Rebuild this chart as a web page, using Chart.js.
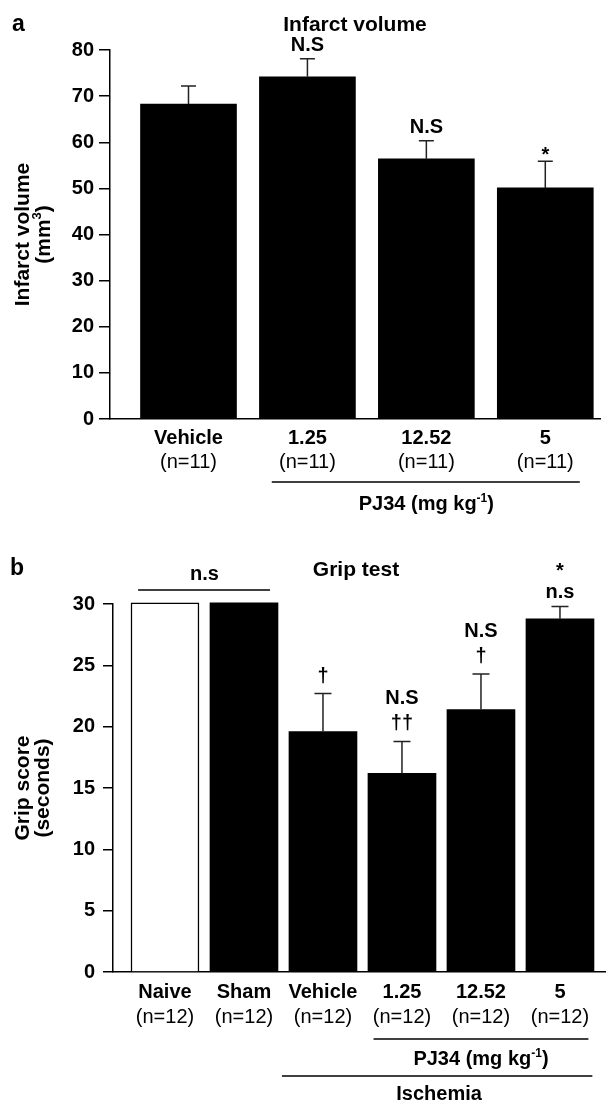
<!DOCTYPE html>
<html>
<head>
<meta charset="utf-8">
<script src="https://cdn.jsdelivr.net/npm/chart.js@4.4.1/dist/chart.umd.min.js"></script>
<style>
  html, body { margin: 0; padding: 0; background: #fff; }
  #wrap { position: relative; width: 611px; height: 1102px; }
  canvas { position: absolute; left: 0; }
</style>
</head>
<body>
<div id="wrap">
  <canvas id="infarct" width="611" height="540" style="top:0"></canvas>
  <canvas id="grip" width="611" height="562" style="top:540px"></canvas>
</div>
<script>
// panel a - infarct volume
const infarctGroups = ['Vehicle', '1.25', '12.52', '5'];
const infarctN = ['(n=11)', '(n=11)', '(n=11)', '(n=11)'];
const infarctMean = [68.3, 74.2, 56.4, 50.1];
const infarctSem = [3.9, 3.9, 3.9, 5.8];
const infarctMarks = [[], ['N.S'], ['N.S'], ['*']];
const infarctTicks = [0, 10, 20, 30, 40, 50, 60, 70, 80];

// panel b - grip test
const gripGroups = ['Naive', 'Sham', 'Vehicle', '1.25', '12.52', '5'];
const gripN = ['(n=12)', '(n=12)', '(n=12)', '(n=12)', '(n=12)', '(n=12)'];
const gripMean = [30.1, 30.1, 19.6, 16.2, 21.4, 28.8];
const gripSem = [0, 0, 3.1, 2.6, 2.9, 1.0];
const gripMarks = [[], [], ['†'], ['††', 'N.S'], ['†', 'N.S'], ['n.s', '*']];
const gripTicks = [0, 5, 10, 15, 20, 25, 30];

const FAMILY = '"Liberation Sans", Arial, Helvetica, sans-serif';
const bold = px => `bold ${px}px ${FAMILY}`;
const plain = px => `${px}px ${FAMILY}`;

// rough glyph geometry so the stacked marks sit like the figure
function glyphBox(t) {
    if (t === '*') return { half: 3, base: 11 };
    if (t.includes('†')) return { half: 9, base: 5 };
    if (t === t.toLowerCase()) return { half: 5, base: 5 };
    return { half: 7, base: 7 };
}

function richText(ctx, parts, cx, y, size) {
    const supSize = Math.round(size * 0.62);
    let w = 0;
    parts.forEach(p => {
        ctx.font = bold(p[1] ? supSize : size);
        w += ctx.measureText(p[0]).width;
    });
    let x = cx - w / 2;
    ctx.textAlign = 'left';
    ctx.textBaseline = 'alphabetic';
    parts.forEach(p => {
        ctx.font = bold(p[1] ? supSize : size);
        ctx.fillText(p[0], x, p[1] ? y - size * 0.42 : y);
        x += ctx.measureText(p[0]).width;
    });
}

function hline(ctx, x1, x2, y) {
    ctx.save();
    ctx.strokeStyle = '#000';
    ctx.lineWidth = 1.5;
    ctx.beginPath();
    ctx.moveTo(x1, y);
    ctx.lineTo(x2, y);
    ctx.stroke();
    ctx.restore();
}

function drawErrorsAndMarks(chart, sem, marks, capW) {
    const ctx = chart.ctx;
    const ys = chart.scales.y;
    const meta = chart.getDatasetMeta(0);
    const vals = chart.data.datasets[0].data;
    ctx.save();
    ctx.strokeStyle = '#222';
    ctx.lineWidth = 1.5;
    meta.data.forEach((bar, i) => {
        const v = vals[i].y;
        const cap = ys.getPixelForValue(v + sem[i]);
        if (sem[i]) {
            ctx.beginPath();
            ctx.moveTo(bar.x, ys.getPixelForValue(v));
            ctx.lineTo(bar.x, cap);
            ctx.moveTo(bar.x - capW / 2, cap);
            ctx.lineTo(bar.x + capW / 2, cap);
            ctx.stroke();
        }
        let center = null;
        marks[i].forEach(t => {
            const g = glyphBox(t);
            center = center === null ? cap - 8 - g.half : center - 27;
            ctx.fillStyle = '#000';
            ctx.font = bold(20);
            ctx.textAlign = 'center';
            ctx.textBaseline = 'alphabetic';
            ctx.fillText(t, bar.x, center + g.base);
        });
    });
    ctx.restore();
}

function drawXLabels(chart, groups, nLabels, boldOff, nOff) {
    const ctx = chart.ctx;
    const meta = chart.getDatasetMeta(0);
    const bottom = chart.chartArea.bottom;
    ctx.save();
    ctx.fillStyle = '#000';
    ctx.textAlign = 'center';
    ctx.textBaseline = 'alphabetic';
    meta.data.forEach((bar, i) => {
        ctx.font = bold(20);
        ctx.fillText(groups[i], bar.x, bottom + boldOff);
        ctx.font = plain(20);
        ctx.fillText(nLabels[i], bar.x, bottom + nOff);
    });
    ctx.restore();
}

function drawYTitle(chart, line1, parts2, x1, x2) {
    const ctx = chart.ctx;
    const area = chart.chartArea;
    const yc = (area.top + area.bottom) / 2;
    ctx.save();
    ctx.fillStyle = '#000';
    ctx.translate(x1, yc);
    ctx.rotate(-Math.PI / 2);
    ctx.font = bold(21);
    ctx.textAlign = 'center';
    ctx.textBaseline = 'alphabetic';
    ctx.fillText(line1, 0, 7);
    ctx.restore();
    ctx.save();
    ctx.fillStyle = '#000';
    ctx.translate(x2, yc);
    ctx.rotate(-Math.PI / 2);
    richText(ctx, parts2, 0, 7, 21);
    ctx.restore();
}

const infarctOverlay = {
    id: 'infarctOverlay',
    afterDatasetsDraw(chart) {
        const ctx = chart.ctx;
        const xs = chart.scales.x;
        const bottom = chart.chartArea.bottom;
        drawErrorsAndMarks(chart, infarctSem, infarctMarks, 15);
        drawXLabels(chart, infarctGroups, infarctN, 25, 49);
        ctx.save();
        ctx.fillStyle = '#000';
        ctx.font = bold(23);
        ctx.textAlign = 'left';
        ctx.fillText('a', 12, 31);
        ctx.font = bold(21);
        ctx.textAlign = 'center';
        ctx.fillText('Infarct volume', 355, 31);
        ctx.restore();
        drawYTitle(chart, 'Infarct volume', [['(mm', 0], ['3', 1], [')', 0]], 22, 43);
        hline(ctx, xs.getPixelForValue(0.7), xs.getPixelForValue(3.29), bottom + 63);
        ctx.fillStyle = '#000';
        richText(ctx, [['PJ34 (mg kg', 0], ['-1', 1], [')', 0]], xs.getPixelForValue(2), bottom + 91, 20);
    }
};

const gripOverlay = {
    id: 'gripOverlay',
    afterDatasetsDraw(chart) {
        const ctx = chart.ctx;
        const xs = chart.scales.x;
        const area = chart.chartArea;
        drawErrorsAndMarks(chart, gripSem, gripMarks, 17);
        drawXLabels(chart, gripGroups, gripN, 26, 51);
        ctx.save();
        ctx.fillStyle = '#000';
        ctx.font = bold(23);
        ctx.textAlign = 'left';
        ctx.fillText('b', 10, 35);
        ctx.font = bold(21);
        ctx.textAlign = 'center';
        ctx.fillText('Grip test', 356, 36);
        // n.s bracket over naive / sham
        ctx.font = bold(20);
        ctx.fillText('n.s', xs.getPixelForValue(0.5), area.top - 24);
        ctx.restore();
        hline(ctx, xs.getPixelForValue(-0.34), xs.getPixelForValue(1.33), area.top - 14);
        drawYTitle(chart, 'Grip score', [['(seconds)', 0]], 22, 42);
        hline(ctx, xs.getPixelForValue(2.64), xs.getPixelForValue(5.36), area.bottom + 67);
        ctx.fillStyle = '#000';
        richText(ctx, [['PJ34 (mg kg', 0], ['-1', 1], [')', 0]], xs.getPixelForValue(4), area.bottom + 93, 20);
        hline(ctx, xs.getPixelForValue(1.48), xs.getPixelForValue(5.41), area.bottom + 104);
        ctx.save();
        ctx.fillStyle = '#000';
        ctx.font = bold(20);
        ctx.textAlign = 'center';
        ctx.fillText('Ischemia', xs.getPixelForValue(3.47), area.bottom + 128);
        ctx.restore();
    }
};

function makeChart(canvasId, opts) {
    return new Chart(document.getElementById(canvasId), {
        type: 'bar',
        data: {
            datasets: [{
                data: opts.mean.map((v, i) => ({ x: i, y: v })),
                backgroundColor: opts.fill,
                borderColor: '#000',
                borderWidth: opts.border,
                barThickness: opts.barW,
                clip: false
            }]
        },
        options: {
            responsive: false,
            animation: false,
            devicePixelRatio: 1,
            layout: { padding: { top: opts.top, right: opts.right, left: 0, bottom: 0 } },
            plugins: { legend: { display: false }, tooltip: { enabled: false }, title: { display: false } },
            scales: {
                x: {
                    type: 'linear',
                    offset: false,
                    min: opts.xMin,
                    max: opts.xMax,
                    ticks: { display: false },
                    grid: { display: false, offset: false },
                    border: { display: true, color: '#000', width: 1.5 },
                    afterFit: s => { s.height = opts.xHeight; }
                },
                y: {
                    min: 0,
                    max: opts.ticks[opts.ticks.length - 1],
                    afterBuildTicks: s => { s.ticks = opts.ticks.map(v => ({ value: v })); },
                    ticks: { color: '#000', font: { family: FAMILY, size: 20, weight: 'bold' }, padding: opts.tickPad },
                    grid: { drawOnChartArea: false, drawTicks: true, tickLength: opts.tickLen, color: '#000', lineWidth: 1.5 },
                    border: { display: true, color: '#000', width: 1.5 },
                    afterFit: s => { s.width = opts.yWidth; }
                }
            }
        },
        plugins: [opts.overlay]
    });
}

makeChart('infarct', {
    mean: infarctMean,
    fill: '#000',
    border: 0,
    barW: 96,
    top: 50, right: 11,
    xMin: -0.66, xMax: 3.46,
    xHeight: 121,
    yWidth: 110,
    ticks: infarctTicks,
    tickPad: 5, tickLen: 11,
    overlay: infarctOverlay
});

makeChart('grip', {
    mean: gripMean,
    fill: ['#fff', '#000', '#000', '#000', '#000', '#000'],
    border: [1.5, 0, 0, 0, 0, 0],
    barW: 68,
    top: 64, right: 6,
    xMin: -0.658, xMax: 5.57,
    xHeight: 130,
    yWidth: 113,
    ticks: gripTicks,
    tickPad: 8, tickLen: 10,
    overlay: gripOverlay
});
</script>
</body>
</html>
